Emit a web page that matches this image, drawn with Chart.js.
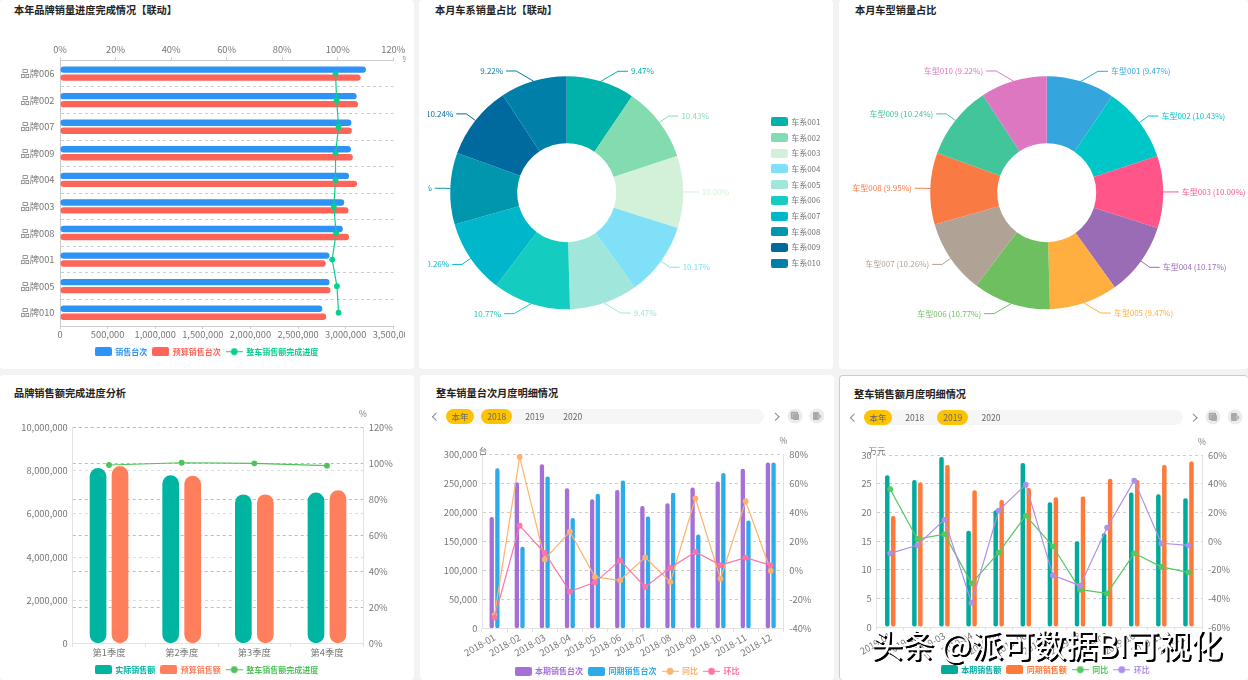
<!DOCTYPE html>
<html lang="zh"><head><meta charset="utf-8">
<script src="https://cdn.jsdelivr.net/npm/chart.js@4/dist/chart.umd.min.js"></script>
<style>
html,body{margin:0;padding:0;width:1248px;height:680px;overflow:hidden;background:#f3f3f3;font-family:"Noto Sans CJK SC",sans-serif}
.panel{position:absolute;background:#fff;border-radius:4px;box-sizing:border-box}
canvas{position:absolute;display:block}
.t{position:absolute;white-space:nowrap;line-height:1;transform:translateY(-50%)}
.title{font-size:10.2px;font-weight:700;color:#222}
.unit{font-size:8.5px;color:#777;transform:translate(-50%,-50%)}
.track{position:absolute;height:14.5px;border-radius:8px;background:#f6f6f6}
.pill{position:absolute;height:14.5px;border-radius:8px;background:#fdc300}
.opt{position:absolute;font-size:8.5px;color:#666;transform:translate(-50%,-50%);line-height:1;white-space:nowrap}
.chev{position:absolute;width:4.5px;height:4.5px;border-top:1px solid #889;border-left:1px solid #889}
.ico{position:absolute;width:15px;height:15px;border-radius:50%;background:#ececec;transform:translate(-50%,-50%)}
.ico svg{position:absolute;left:3px;top:3px}
.wm{position:absolute;left:871px;top:625px;font-size:31.6px;line-height:36px;color:#fff;white-space:nowrap;font-weight:400;text-shadow:1.5px 1.5px .6px #000,2px 1.5px .6px #000}
</style></head><body>
<div class="panel" style="left:0;top:0;width:414px;height:369px"></div>
<div class="panel" style="left:419px;top:0;width:414px;height:369px"></div>
<div class="panel" style="left:839px;top:0;width:409px;height:369px"></div>
<div class="panel" style="left:0;top:375px;width:414px;height:305px"></div>
<div class="panel" style="left:420px;top:375px;width:413.5px;height:305px"></div>
<div class="panel" style="left:838.5px;top:375px;width:409.5px;height:305px;border:1px solid #ccc;border-right:0;border-bottom:0"></div>

<canvas id="c1" width="405" height="338" style="left:0;top:30px"></canvas>
<canvas id="c2" width="405" height="348" style="left:428px;top:20px"></canvas>
<canvas id="c3" width="409" height="348" style="left:839px;top:20px"></canvas>
<canvas id="c4" width="413" height="280" style="left:0;top:400px"></canvas>
<canvas id="c5" width="412" height="240" style="left:421px;top:440px"></canvas>
<canvas id="c6" width="409" height="240" style="left:839px;top:440px"></canvas>

<div class="t title" style="left:14px;top:10px">本年品牌销量进度完成情况【联动】</div>
<div class="t title" style="left:435px;top:10px">本月车系销量占比【联动】</div>
<div class="t title" style="left:855px;top:10px">本月车型销量占比</div>
<div class="t title" style="left:14px;top:393px">品牌销售额完成进度分析</div>
<div class="t title" style="left:436px;top:393px">整车销量台次月度明细情况</div>
<div class="t title" style="left:854px;top:394px">整车销售额月度明细情况</div>

<div class="t unit" style="left:404px;top:59px;font-size:7px;width:3px;overflow:hidden">9</div>
<div class="t unit" style="left:363px;top:412.5px">%</div>
<div class="t unit" style="left:483px;top:449.5px">台</div>
<div class="t unit" style="left:783.5px;top:440px">%</div>
<div class="t unit" style="left:877px;top:450px">万元</div>
<div class="t unit" style="left:1202px;top:441px">%</div>

<!-- selector 5 -->
<div class="track" style="left:445.7px;top:409px;width:318.5px"></div>
<div class="pill" style="left:445.7px;top:409px;width:28.3px"></div>
<div class="pill" style="left:481px;top:409px;width:31.3px"></div>
<div class="opt" style="left:460px;top:416.2px">本年</div>
<div class="opt" style="left:496.7px;top:416.2px">2018</div>
<div class="opt" style="left:534.7px;top:416.2px">2019</div>
<div class="opt" style="left:572.7px;top:416.2px">2020</div>
<div class="chev" style="left:433px;top:413.5px;transform:rotate(-45deg)"></div>
<div class="chev" style="left:773px;top:413.5px;transform:rotate(135deg)"></div>
<div class="ico" style="left:794.7px;top:415.7px"><svg width="9" height="9"><rect x="0.5" y="0.5" width="6.5" height="6.5" rx="1" fill="#bbb" stroke="#999"/><rect x="2.5" y="2.5" width="6" height="6" rx="1" fill="#aaa"/></svg></div>
<div class="ico" style="left:816.7px;top:415.7px"><svg width="9" height="9"><rect x="0.5" y="0.5" width="6" height="8" rx="1" fill="#aaa"/><circle cx="7" cy="5" r="2" fill="#bbb"/></svg></div>
<!-- selector 6 -->
<div class="track" style="left:863.7px;top:410px;width:319px"></div>
<div class="pill" style="left:863.7px;top:410px;width:28.3px"></div>
<div class="pill" style="left:937px;top:410px;width:31.3px"></div>
<div class="opt" style="left:878px;top:417.2px">本年</div>
<div class="opt" style="left:914.7px;top:417.2px">2018</div>
<div class="opt" style="left:952.7px;top:417.2px">2019</div>
<div class="opt" style="left:991px;top:417.2px">2020</div>
<div class="chev" style="left:851px;top:414.5px;transform:rotate(-45deg)"></div>
<div class="chev" style="left:1191px;top:414.5px;transform:rotate(135deg)"></div>
<div class="ico" style="left:1212.7px;top:416.7px"><svg width="9" height="9"><rect x="0.5" y="0.5" width="6.5" height="6.5" rx="1" fill="#bbb" stroke="#999"/><rect x="2.5" y="2.5" width="6" height="6" rx="1" fill="#aaa"/></svg></div>
<div class="ico" style="left:1234.7px;top:416.7px"><svg width="9" height="9"><rect x="0.5" y="0.5" width="6" height="8" rx="1" fill="#aaa"/><circle cx="7" cy="5" r="2" fill="#bbb"/></svg></div>

<div class="wm">头条 @派可数据BI可视化</div>

<script>
// ---------- data ----------
const brandLabels = ['品牌006','品牌002','品牌007','品牌009','品牌004','品牌003','品牌008','品牌001','品牌005','品牌010'];
const brandSales = [3213000,3115000,3060000,3055000,3035000,2985000,2970000,2830000,2830000,2755000];
const brandBudget = [3157000,3130000,3065000,3075000,3120000,3030000,3035000,2790000,2840000,2795000];
const brandProgress = [99.2,99.6,100.3,99.2,99.2,98.6,99.4,98.0,99.7,100.3];

const seriesLabels = ['车系001','车系002','车系003','车系004','车系005','车系006','车系007','车系008','车系009','车系010'];
const modelLabels = ['车型001','车型002','车型003','车型004','车型005','车型006','车型007','车型008','车型009','车型010'];
const shareValues = [9.47,10.43,10.00,10.17,9.47,10.77,10.26,9.95,10.24,9.22];

const quarterLabels = ['第1季度','第2季度','第3季度','第4季度'];
const quarterActual = [8108000,7770000,6890000,6980000];
const quarterBudget = [8200000,7750000,6890000,7080000];
const quarterProgress = [98.95,100.2,99.9,98.6];

const months2018 = ['2018-01','2018-02','2018-03','2018-04','2018-05','2018-06','2018-07','2018-08','2018-09','2018-10','2018-11','2018-12'];
const unitsCurrent = [192000,252000,283000,241500,222600,238600,211000,216000,243000,253000,275000,286000];
const unitsPrior = [276000,141000,262000,190400,232000,255000,193000,234000,162000,268000,186000,286000];
const unitsYoY = [-30.6,78.2,7.7,26.8,-4.4,-6.7,9.1,-7.9,49.7,-5.6,47.7,-0.1];
const unitsMoM = [-32.4,30.9,12.1,-14.5,-8.1,7,-11.3,2,12.8,3.8,8.9,3.6];

const months2019 = ['2019-01','2019-02','2019-03','2019-04','2019-05','2019-06','2019-07','2019-08','2019-09','2019-10','2019-11','2019-12'];
const revenueCurrent = [26.5,25.7,29.7,16.8,20.4,28.65,21.8,15.0,16.4,23.5,23.2,22.5];
const revenuePrior = [19.4,25.3,28.3,23.9,22.2,24.3,22.65,22.8,25.9,25.7,28.3,28.9];
const revenueYoY = [36.3,1.5,4.8,-29.5,-8,17.9,-3.6,-33.9,-36.5,-8.5,-18.0,-21.8];
const revenueMoM = [-8.5,-2.9,15,-43.2,21.4,39.5,-23.9,-31.1,9.5,42.3,-1.5,-2.9];

const seriesColors = ['#00b2a9','#83dcb0','#d2f1d8','#7fe0f8','#a0e6da','#14cdc0','#00b6ca','#0096ae','#006a9f','#007fa8'];
const modelColors = ['#35a6dd','#00c7c7','#ff5588','#9b6cb6','#ffae40','#6ebf5f','#b0a396','#f97a42','#42c59a','#dd77c2'];

// ---------- helpers ----------
const FONT = '"Noto Sans CJK SC","Noto Sans",sans-serif';
Chart.defaults.font.family = FONT;
Chart.defaults.font.size = 9.3;
Chart.defaults.color = '#777';
Chart.defaults.animation = false;
Chart.defaults.responsive = false;
Chart.defaults.plugins.tooltip.enabled = false;

function swatch(color){
  const c=document.createElement('canvas');c.width=17;c.height=9;
  const x=c.getContext('2d');x.fillStyle=color;x.beginPath();x.roundRect(0,0,17,9,2);x.fill();return c;
}
function dotLine(color){
  const c=document.createElement('canvas');c.width=17;c.height=9;
  const x=c.getContext('2d');x.strokeStyle=color;x.fillStyle=color;x.lineWidth=1;
  x.beginPath();x.moveTo(0,4.5);x.lineTo(17,4.5);x.stroke();
  x.beginPath();x.arc(8.5,4.5,3.4,0,Math.PI*2);x.fill();return c;
}
const LEG_P=5.5;
function legend(items,vertical){
  return {
    position: vertical?'right':'bottom',
    labels:{usePointStyle:true,pointStyleWidth:16,boxHeight:8,padding:vertical?7.7:LEG_P,
      font:{size:8,family:FONT,weight:vertical?'normal':'700'},
      generateLabels:()=>items.map(i=>({text:i.text,fontColor:i.font||i.color,pointStyle:i.line?dotLine(i.color):swatch(i.color),lineWidth:0,hidden:false}))}
  };
}
// layout solver: returns padding and axis thickness so the plot rectangle lands where asked
function frame(box,plot,legendCx,legendCy,rightW){
  const R=box.x+box.w-plot.r-rightW;
  const L=2*(legendCx-box.x)-box.w+R;
  const legendTop=legendCy-(LEG_P+4), legendBottom=legendTop+8+LEG_P+10;
  return {padding:{left:L,right:R,top:0,bottom:box.y+box.h-legendBottom},
    leftW:plot.l-box.x-L,rightW,xH:legendTop-plot.b,topH:plot.t-box.y};
}
const fixW=w=>s=>{s.width=w;s.paddingLeft=s.paddingRight=s.paddingTop=s.paddingBottom=0;};
const fixH=h=>s=>{s.height=h;s.paddingLeft=s.paddingRight=s.paddingTop=s.paddingBottom=0;};
const thousands=v=>Number(v).toLocaleString('en-US');
const pct=v=>v+'%';

// ---------- chart 1 ----------
(function(){
  const f=frame({x:0,y:30,w:405,h:338},{l:60,r:393.3,t:60.3,b:326},206.7,351.7,0);
  const blue='#2d93f5',red='#ff6459',green='#07d08f';
  new Chart(document.getElementById('c1'),{type:'bar',
    data:{labels:brandLabels,datasets:[
      {type:'line',label:'整车销售额完成进度',data:brandProgress,xAxisID:'x1',yAxisID:'y',borderColor:green,backgroundColor:green,borderWidth:1.2,pointRadius:2.3,tension:0,order:0},
      {label:'销售台次',data:brandSales,xAxisID:'x',yAxisID:'y',backgroundColor:blue,borderRadius:3.2,borderSkipped:false,order:1,categoryPercentage:.6,barPercentage:.8},
      {label:'预算销售台次',data:brandBudget,xAxisID:'x',yAxisID:'y',backgroundColor:red,borderRadius:3.2,borderSkipped:false,order:1,categoryPercentage:.6,barPercentage:.8}
    ]},
    options:{indexAxis:'y',layout:{padding:f.padding},
      plugins:{legend:legend([{text:'销售台次',color:blue},{text:'预算销售台次',color:red},{text:'整车销售额完成进度',color:green,line:true}])},
      scales:{
        y:{type:'category',offset:true,afterFit:fixW(f.leftW),
          grid:{offset:true,color:'#ccc',drawTicks:false},border:{color:'#ccc',dash:[3,3]},ticks:{padding:5.5,autoSkip:false}},
        x:{type:'linear',position:'bottom',min:0,max:3500000,afterFit:fixH(f.xH),
          grid:{drawOnChartArea:false,tickLength:3,color:'#ccc'},border:{color:'#ccc'},ticks:{stepSize:500000,callback:thousands,autoSkip:false,maxRotation:0,padding:0}},
        x1:{type:'linear',position:'top',min:0,max:120,afterFit:fixH(f.topH),
          grid:{drawOnChartArea:false,tickLength:3,color:'#ccc'},border:{color:'#ccc'},ticks:{stepSize:20,callback:pct,autoSkip:false,maxRotation:0,padding:2}}
      }}});
})();

// ---------- doughnut: centre placement and outside labels ----------
const pieFrame={id:'pieFrame',afterLayout(chart,args,o){
  const a=chart.chartArea,R=chart.options.radius;
  a.left=o.cx-R;a.right=o.cx+R;a.top=o.cy-R;a.bottom=o.cy+R;a.width=a.height=2*R;
}};
const pieLabels={id:'pieLabels',afterDatasetsDraw(chart,args,opts){
  const ctx=chart.ctx,ds=chart.data.datasets[0],arcs=chart.getDatasetMeta(0).data;
  ctx.save();ctx.font='8px '+FONT;ctx.textBaseline='middle';ctx.lineWidth=1;
  arcs.forEach((a,i)=>{
    const mid=(a.startAngle+a.endAngle)/2,R=a.outerRadius,c=Math.cos(mid),s=Math.sin(mid);
    const dir=c>=0?1:-1,ty=a.y+(R+10.5)*s,tx=a.x+dir*(35+100*Math.abs(c));
    ctx.strokeStyle=ds.backgroundColor[i];ctx.fillStyle=ds.backgroundColor[i];
    ctx.beginPath();ctx.moveTo(a.x+R*c,a.y+R*s);ctx.lineTo(tx-dir*13,ty);ctx.lineTo(tx-dir*3,ty);ctx.stroke();
    ctx.textAlign=dir>0?'left':'right';
    ctx.fillText(opts.text(i),tx,ty);
  });
  ctx.restore();
}};
function doughnut(id,labels,colors,text,center,padding,legendOpt){
  new Chart(document.getElementById(id),{type:'doughnut',
    data:{labels,datasets:[{data:shareValues,backgroundColor:colors,borderWidth:0}]},
    options:{radius:116.5,cutout:'42.5%',layout:{padding},
      plugins:{legend:legendOpt,pieLabels:{text},pieFrame:center}},
    plugins:[pieFrame,pieLabels]});
}
doughnut('c2',seriesLabels,seriesColors,i=>shareValues[i].toFixed(2)+'%',{cx:138.7,cy:172.7},{left:0,right:2.5,top:0,bottom:3},
  legend(seriesLabels.map((t,i)=>({text:t,color:seriesColors[i],font:'#777'})),true));
doughnut('c3',modelLabels,modelColors,i=>modelLabels[i]+' ('+shareValues[i].toFixed(2)+'%)',{cx:207.7,cy:172.7},{left:0,right:0,top:0,bottom:0},{display:false});

// ---------- chart 4 ----------
(function(){
  const f=frame({x:0,y:400,w:413,h:280},{l:72.7,r:363.3,t:427,b:643.7},206.7,669.7,30);
  const teal='#00b4a2',orange='#ff7f5c',green='#4fc35a';
  new Chart(document.getElementById('c4'),{type:'bar',
    data:{labels:quarterLabels,datasets:[
      {type:'line',label:'整车销售额完成进度',data:quarterProgress,yAxisID:'y1',borderColor:green,backgroundColor:green,borderWidth:1.2,pointRadius:2.3,tension:0,order:0},
      {label:'实际销售额',data:quarterActual,yAxisID:'y',backgroundColor:teal,borderRadius:8.4,borderSkipped:false,order:1,categoryPercentage:.605,barPercentage:.76},
      {label:'预算销售额',data:quarterBudget,yAxisID:'y',backgroundColor:orange,borderRadius:8.4,borderSkipped:false,order:1,categoryPercentage:.605,barPercentage:.76}
    ]},
    options:{layout:{padding:Object.assign(f.padding,{top:f.topH})},
      plugins:{legend:legend([{text:'实际销售额',color:teal},{text:'预算销售额',color:orange},{text:'整车销售额完成进度',color:green,line:true}])},
      scales:{
        x:{type:'category',offset:true,afterFit:fixH(f.xH),grid:{offset:true,drawOnChartArea:false,tickLength:3,color:'#ddd'},border:{color:'#e2e2e2'},ticks:{padding:0,maxRotation:0,autoSkip:false}},
        y:{position:'left',min:0,max:10000000,afterFit:fixW(f.leftW),grid:{color:'#ddd',drawTicks:false},border:{color:'#e2e2e2',dash:[3,3]},ticks:{stepSize:2000000,callback:thousands,padding:5}},
        y1:{position:'right',min:0,max:120,afterFit:fixW(f.rightW),grid:{color:'#bbb',drawTicks:false},border:{color:'#e2e2e2',dash:[3,3]},ticks:{stepSize:20,callback:pct,padding:5.5}}
      }}});
})();

// ---------- monthly combo ----------
function monthly(id,box,plot,cx,cy,rightW,labels,bars,lines,leftAxis,rightAxis,cat,bar){
  const f=frame(box,plot,cx,cy,rightW);
  const ds=[];
  lines.slice().reverse().forEach((l,i)=>ds.push({type:'line',label:l.label,data:l.data,yAxisID:'y1',borderColor:l.color,backgroundColor:l.color,borderWidth:1.2,pointRadius:2.3,tension:0,order:i}));
  bars.forEach(b=>ds.push({label:b.label,data:b.data,yAxisID:'y',backgroundColor:b.color,borderRadius:2,borderSkipped:false,order:5,categoryPercentage:cat,barPercentage:bar}));
  new Chart(document.getElementById(id),{type:'bar',data:{labels,datasets:ds},
    options:{layout:{padding:Object.assign(f.padding,{top:f.topH})},
      plugins:{legend:legend([...bars.map(b=>({text:b.label,color:b.color})),...lines.map(l=>({text:l.label,color:l.color,line:true}))])},
      scales:{
        x:{type:'category',offset:true,afterFit:fixH(f.xH),grid:{offset:true,drawOnChartArea:false,tickLength:3,color:'#ddd'},border:{color:'#e2e2e2'},ticks:{padding:0,minRotation:30,maxRotation:30,autoSkip:false}},
        y:Object.assign({position:'left',afterFit:fixW(f.leftW),grid:{color:'#ccc',drawTicks:false},border:{color:'#e2e2e2',dash:[3,3]}},leftAxis),
        y1:Object.assign({position:'right',afterFit:fixW(f.rightW),grid:{drawOnChartArea:false,drawTicks:false},border:{color:'#e2e2e2'}},rightAxis)
      }}});
}
monthly('c5',{x:421,y:440,w:412,h:240},{l:482,r:783.3,t:454.3,b:628.7},627.3,671.3,35,months2018,
  [{label:'本期销售台次',data:unitsCurrent,color:'#a46fd6'},{label:'同期销售台次',data:unitsPrior,color:'#2babe8'}],
  [{label:'同比',data:unitsYoY,color:'#ffb26b'},{label:'环比',data:unitsMoM,color:'#ff73a6'}],
  {min:0,max:300000,ticks:{stepSize:50000,callback:thousands,padding:4.7}},
  {min:-40,max:80,ticks:{stepSize:20,callback:pct,padding:6}},.45,.76);
monthly('c6',{x:839,y:440,w:409,h:240},{l:876.7,r:1202,t:455.3,b:627},1045.5,669.7,32,months2019,
  [{label:'本期销售额',data:revenueCurrent,color:'#00ab9e'},{label:'同期销售额',data:revenuePrior,color:'#ff7a38'}],
  [{label:'同比',data:revenueYoY,color:'#55c860'},{label:'环比',data:revenueMoM,color:'#b08fe8'}],
  {min:0,max:30,ticks:{stepSize:5,padding:5}},
  {min:-60,max:60,ticks:{stepSize:20,callback:pct,padding:6}},.44,.75);
</script>
</body></html>
